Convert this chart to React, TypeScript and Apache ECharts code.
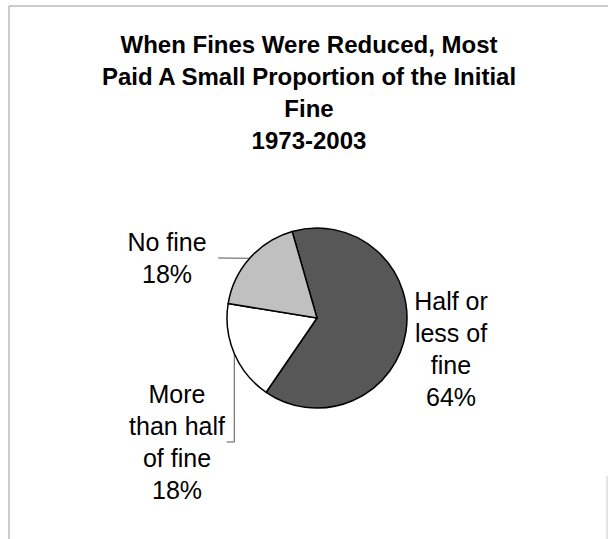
import React, { useEffect, useRef } from "react";
import * as echarts from "echarts";

const titleLines = [
  "When Fines Were Reduced, Most",
  "Paid A Small Proportion of the Initial",
  "Fine",
  "1973-2003",
];
const categories = ["Half or less of fine", "More than half of fine", "No fine"];
const labelTexts = ["Half or\nless of\nfine", "More\nthan half\nof fine", "No fine"];
const values = [64, 18, 18];
const colors = ["#575757", "#ffffff", "#c0c0c0"];

// label anchor centres (layout) and leader style per slice
const labelAnchors = [
  { x: 451, y: 349, leader: "none" },
  { x: 177, y: 442, leader: "elbow" },
  { x: 167, y: 258, leader: "straight" },
];

export default function App() {
  const ref = useRef<HTMLDivElement>(null);
  useEffect(() => {
    if (!ref.current) return;
    const chart = echarts.init(ref.current, null, { renderer: "svg" });
    chart.setOption({
      animation: false,
      backgroundColor: "#ffffff",
      title: {
        text: titleLines.join("\n"),
        left: 304,
        top: 23,
        textAlign: "center",
        textStyle: {
          fontFamily: "Liberation Sans",
          fontWeight: "bold",
          fontSize: 24,
          lineHeight: 32,
          color: "#000",
        },
      },
      graphic: [
        { type: "line", shape: { x1: 9, y1: 6, x2: 608, y2: 6 }, style: { stroke: "#9a9a9a", lineWidth: 1 } },
        { type: "line", shape: { x1: 9, y1: 6, x2: 9, y2: 539 }, style: { stroke: "#9a9a9a", lineWidth: 1 } },
        { type: "line", shape: { x1: 607, y1: 476, x2: 607, y2: 539 }, style: { stroke: "#c8c8c8", lineWidth: 1 } },
      ],
      series: [
        {
          type: "pie",
          center: [317, 318],
          radius: 90,
          startAngle: 106,
          clockwise: true,
          data: categories.map((name, i) => ({
            name,
            value: values[i],
            itemStyle: { color: colors[i] },
          })),
          itemStyle: { borderColor: "#000", borderWidth: 1.5 },
          label: {
            show: true,
            position: "outside",
            formatter: (p: any) => `${labelTexts[p.dataIndex]}\n${p.value}%`,
            fontFamily: "Liberation Sans",
            fontSize: 25,
            lineHeight: 32,
            color: "#000",
            align: "center",
          },
          labelLine: {
            show: true,
            lineStyle: { color: "#555", width: 1 },
          },
          labelLayout: (params: any) => {
            const a = labelAnchors[params.dataIndex];
            const w = params.rect.width;
            const p0 = params.labelLinePoints ? params.labelLinePoints[0] : [0, 0];
            let pts: number[][];
            if (a.leader === "straight") {
              pts = [p0, [a.x + w / 2 + 6, a.y]];
            } else if (a.leader === "elbow") {
              pts = [p0, [p0[0], a.y], [a.x + w / 2 + 4, a.y]];
            } else {
              pts = [p0, p0];
            }
            return {
              x: a.x,
              y: a.y,
              align: "center",
              verticalAlign: "middle",
              labelLinePoints: pts,
            };
          },
        },
      ],
    });
    return () => chart.dispose();
  }, []);
  return (
    <div
      ref={ref}
      style={{ position: "fixed", left: 0, top: 0, width: 608, height: 539 }}
    />
  );
}
